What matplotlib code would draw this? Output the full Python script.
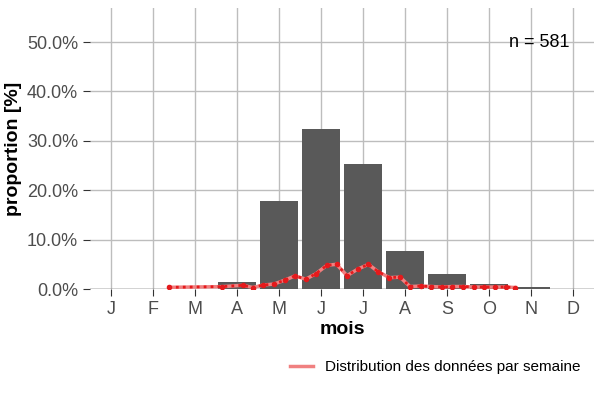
import matplotlib
matplotlib.use("Agg")
import matplotlib.pyplot as plt
from matplotlib.ticker import FuncFormatter

plt.rcParams['font.family'] = ['Liberation Sans', 'DejaVu Sans']

months = ["J","F","M","A","M","J","J","A","S","O","N","D"]
bar_pct = [0, 0, 0, 1.5, 17.8, 32.3, 25.4, 7.6, 3.0, 1.1, 0.4, 0]
week_x = [1.38, 2.64, 3.14, 3.38, 3.62, 3.88, 4.14, 4.38, 4.64, 4.88, 5.14, 5.37, 5.62, 5.87,
          6.13, 6.36, 6.63, 6.88, 7.12, 7.38, 7.63, 7.88, 8.13, 8.38, 8.64, 8.88, 9.14, 9.4, 9.63]
week_pct = [0.34, 0.48, 0.75, 0.3, 0.8, 1.0, 1.8, 2.65, 2.0, 3.1, 4.8, 5.0, 2.7, 4.0,
            5.0, 3.5, 2.3, 2.4, 0.5, 0.6, 0.5, 0.4, 0.5, 0.5, 0.4, 0.4, 0.4, 0.4, 0.3]

fig = plt.figure(figsize=(6, 4), dpi=100)
ax = fig.add_axes([0.15, 0.2775, 0.84, 0.7025])
x = list(range(12))
ax.bar(x, bar_pct, width=0.9, color="#595959", zorder=2)
ln, = ax.plot(week_x, week_pct, color="#f08080", lw=2.5, zorder=3)
ax.plot(week_x, week_pct, color="#e41a1c", lw=2, ls=(0, (1, 1.5)), marker="o", ms=3, zorder=4)
ax.set_xlim(-0.5, 11.5)
ax.set_ylim(0, 56.9)
ax.set_yticks([0, 10, 20, 30, 40, 50])
ax.yaxis.set_major_formatter(FuncFormatter(lambda v, p: f"{v:.1f}%"))
ax.set_xticks(x)
ax.set_xticklabels(months)
ax.grid(True, color="#bdbdbd", lw=1, zorder=0)
ax.set_axisbelow(True)
for s in ax.spines.values():
    s.set_visible(False)
ax.axhline(0, color="#555555", lw=1, zorder=1)
ax.tick_params(axis="both", labelsize=13, colors="#4d4d4d", length=5, color="#333333")
for lab in ax.get_xticklabels() + ax.get_yticklabels():
    lab.set_color("#4d4d4d")
ax.set_xlabel("mois", fontsize=14, fontweight="bold", labelpad=2)
ax.set_ylabel("proportion [%]", fontsize=14, fontweight="bold", labelpad=4)
ax.text(10.2, 50, "n = 581", fontsize=13, ha="center", va="center")
fig.legend([ln], ["Distribution des données par semaine"], loc="lower right",
           bbox_to_anchor=(0.99, 0.03), frameon=False, fontsize=11, handlelength=1.5)
fig.savefig("out.png")
